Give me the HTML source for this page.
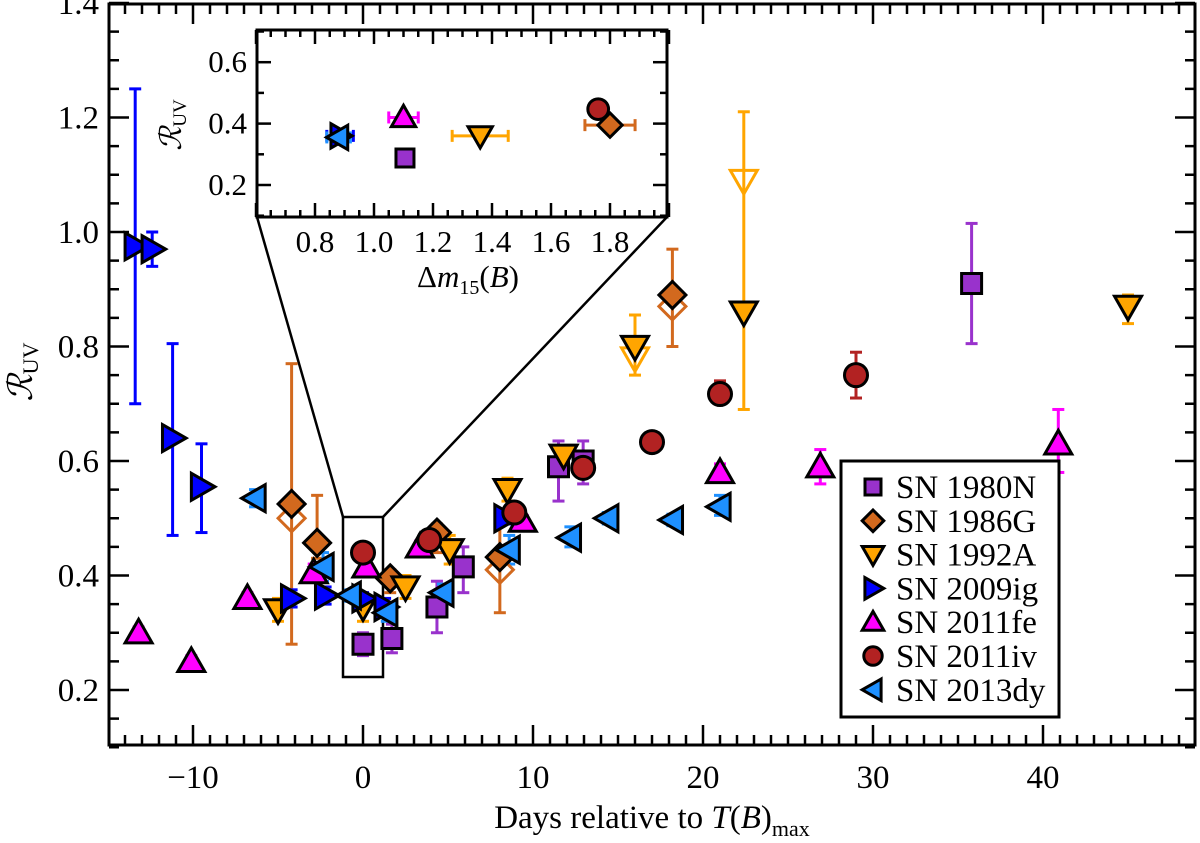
<!DOCTYPE html>
<html><head><meta charset="utf-8"><style>
html,body{margin:0;padding:0;background:#fff}
svg{display:block;font-family:"Liberation Serif",serif}
</style></head><body>
<svg id="chart" width="1200" height="843" viewBox="0 0 1200 843" xmlns="http://www.w3.org/2000/svg">
<g id="main"></g>
<g id="inset"></g>
</svg>
<script>
// ---------- data (main panel) ----------
const sn80Days = [0.0, 1.7, 4.35, 5.9, 11.5, 12.95, 35.8];
const sn80Vals = [0.28, 0.29, 0.345, 0.415, 0.59, 0.60, 0.91];
const sn80Lo = [0.26, 0.265, 0.30, 0.37, 0.53, 0.56, 0.805];
const sn80Hi = [0.30, 0.315, 0.39, 0.45, 0.635, 0.635, 1.015];

const sn86Days = [-4.2, -2.7, 1.6, 4.35, 8.05, 18.2];
const sn86Vals = [0.525, 0.457, 0.395, 0.475, 0.432, 0.89];
const sn86Lo = [0.28, 0.43, 0.37, 0.44, 0.335, 0.80];
const sn86Hi = [0.77, 0.54, 0.41, 0.49, 0.50, 0.97];

const sn92Days = [-5.0, 0.0, 2.5, 5.1, 8.5, 11.8, 16.0, 22.4, 45.0];
const sn92Vals = [0.34, 0.345, 0.38, 0.445, 0.55, 0.61, 0.80, 0.86, 0.87];
const sn92Lo = [0.32, 0.32, 0.36, 0.42, 0.53, 0.59, 0.75, 0.69, 0.84];
const sn92Hi = [0.36, 0.37, 0.40, 0.47, 0.57, 0.625, 0.855, 1.21, 0.89];

const sn09Days = [-13.4, -12.4, -11.2, -9.5, -4.2, -2.2, 0.0, 1.3, 8.35];
const sn09Vals = [0.975, 0.97, 0.64, 0.555, 0.36, 0.365, 0.36, 0.345, 0.50];
const sn09Lo = [0.70, 0.94, 0.47, 0.475, 0.345, 0.35, 0.35, 0.33, 0.49];
const sn09Hi = [1.25, 1.0, 0.805, 0.63, 0.375, 0.38, 0.37, 0.36, 0.51];

const sn11feDays = [-13.2, -10.1, -6.8, -2.9, 0.2, 3.35, 9.4, 21.0, 26.9, 40.9];
const sn11feVals = [0.30, 0.25, 0.36, 0.405, 0.415, 0.45, 0.495, 0.58, 0.59, 0.63];
const sn11feLo = [0.29, 0.24, 0.35, 0.39, 0.40, 0.44, 0.485, 0.565, 0.56, 0.58];
const sn11feHi = [0.31, 0.26, 0.37, 0.42, 0.43, 0.46, 0.505, 0.595, 0.62, 0.69];

const sn11ivDays = [0.0, 3.9, 8.9, 12.95, 17.0, 21.0, 29.0];
const sn11ivVals = [0.44, 0.462, 0.51, 0.588, 0.633, 0.717, 0.75];
const sn11ivLo = [0.43, 0.45, 0.50, 0.575, 0.62, 0.70, 0.71];
const sn11ivHi = [0.45, 0.475, 0.52, 0.60, 0.645, 0.74, 0.79];

const sn13Days = [-6.35, -2.35, -0.75, 1.4, 4.7, 8.6, 12.2, 14.4, 18.2, 21.0];
const sn13Vals = [0.535, 0.415, 0.365, 0.335, 0.37, 0.445, 0.466, 0.50, 0.497, 0.52];
const sn13Lo = [0.52, 0.39, 0.355, 0.32, 0.355, 0.42, 0.45, 0.49, 0.487, 0.505];
const sn13Hi = [0.55, 0.44, 0.375, 0.35, 0.385, 0.47, 0.485, 0.51, 0.507, 0.54];

// open (hollow) alternative measurements
const open86Days = [-4.2, 8.05, 18.2];
const open86Vals = [0.50, 0.41, 0.87];
const open92Days = [16.0, 22.4];
const open92Vals = [0.78, 1.09];

// ---------- data (inset) ----------
const insetNames = ['1980N','1986G','1992A','2009ig','2011fe','2011iv','2013dy'];
const insetDm15 = [1.105, 1.80, 1.36, 0.885, 1.10, 1.76, 0.88];
const insetVals = [0.288, 0.395, 0.36, 0.36, 0.42, 0.447, 0.355];
const insetDmErr = [0.0, 0.085, 0.095, 0.045, 0.05, 0.0, 0.04];

const xTicks = [-10, 0, 10, 20, 30, 40];
const yTicks = [0.2, 0.4, 0.6, 0.8, 1.0, 1.2, 1.4];
const insetXTicks = [0.8, 1.0, 1.2, 1.4, 1.6, 1.8];
const insetYTicks = [0.2, 0.4, 0.6];
const legendLabels = ['SN 1980N','SN 1986G','SN 1992A','SN 2009ig','SN 2011fe','SN 2011iv','SN 2013dy'];

// ---------- layout ----------
const NS = 'http://www.w3.org/2000/svg';
const L = 109, R = 1195, T = 4, B = 745;
const X = d => 363 + d * 17;
const Y = v => 690 - (v - 0.2) * 572.5;
const IL = 257, IR = 667, IT = 30, IB = 217;
const IX = d => 315 + (d - 0.8) * 295;
const IY = v => 185 - (v - 0.2) * 307;

const colors = {
  '1980N':'#9932CC','1986G':'#D2691E','1992A':'#FFA500','2009ig':'#0000FF',
  '2011fe':'#FF00FF','2011iv':'#B22222','2013dy':'#1E90FF'};
const shapes = {
  '1980N':'square','1986G':'diamond','1992A':'down','2009ig':'right',
  '2011fe':'up','2011iv':'circle','2013dy':'left'};

function el(tag, attrs, parent){
  const e = document.createElementNS(NS, tag);
  for (const k in attrs) e.setAttribute(k, attrs[k]);
  parent.appendChild(e); return e;
}
function markerPath(shape, cx, cy, s){
  switch(shape){
    case 'square': return `M${cx-s},${cy-s}H${cx+s}V${cy+s}H${cx-s}Z`;
    case 'diamond': { const r=s*1.35; return `M${cx},${cy-r}L${cx+r},${cy}L${cx},${cy+r}L${cx-r},${cy}Z`; }
    case 'down': { const r=s*1.35; return `M${cx-r},${cy-r*0.75}L${cx+r},${cy-r*0.75}L${cx},${cy+r}Z`; }
    case 'up': { const r=s*1.35; return `M${cx-r},${cy+r*0.75}L${cx+r},${cy+r*0.75}L${cx},${cy-r}Z`; }
    case 'right': { const r=s*1.35; return `M${cx-r*0.75},${cy-r}L${cx+r},${cy}L${cx-r*0.75},${cy+r}Z`; }
    case 'left': { const r=s*1.35; return `M${cx+r*0.75},${cy-r}L${cx-r},${cy}L${cx+r*0.75},${cy+r}Z`; }
  }
}
function marker(g, key, cx, cy, s, open){
  const col = colors[key];
  if (shapes[key]==='circle'){
    const c = el('circle',{cx:cx,cy:cy,r:s*1.15,fill:open?'none':col,stroke:open?col:'#000','stroke-width':3},g);
    
    
    return;
  }
  const p = el('path',{d:markerPath(shapes[key],cx,cy,s),fill:open?'none':col,stroke:open?col:'#000','stroke-width':3,'stroke-linejoin':'miter'},g);
  
  
}
function vErr(g, col, x, y1, y2, cap){
  el('line',{x1:x,x2:x,y1:y1,y2:y2,stroke:col,'stroke-width':3},g);
  el('line',{x1:x-cap,x2:x+cap,y1:y1,y2:y1,stroke:col,'stroke-width':3},g);
  el('line',{x1:x-cap,x2:x+cap,y1:y2,y2:y2,stroke:col,'stroke-width':3},g);
}
function hErr(g, col, x1, x2, y, cap){
  el('line',{x1:x1,x2:x2,y1:y,y2:y,stroke:col,'stroke-width':3},g);
  el('line',{x1:x1,x2:x1,y1:y-cap,y2:y+cap,stroke:col,'stroke-width':3},g);
  el('line',{x1:x2,x2:x2,y1:y-cap,y2:y+cap,stroke:col,'stroke-width':3},g);
}
function txt(g, s, x, y, size, anchor, name){
  const t = el('text',{x:x,y:y,'font-size':size,'text-anchor':anchor||'middle',fill:'#000'},g);
  t.textContent = s;
  
  
  return t;
}

const main = document.getElementById('main');
const inset = document.getElementById('inset');

// ---------- main axes ----------
const frame = el('rect',{x:L,y:T,width:R-L,height:B-T,fill:'none',stroke:'#000','stroke-width':3},main);


for (let d=-14; d<=48; d++){
  const x = X(d), len = (d%10===0)?20:10;
  el('line',{x1:x,x2:x,y1:B,y2:B-len,stroke:'#000','stroke-width':2.5},main);
  el('line',{x1:x,x2:x,y1:T,y2:T+len,stroke:'#000','stroke-width':2.5},main);
}
for (let i=2; i<=28; i++){
  const v = i*0.05, y = Y(v), len = (i%4===0)?20:10;
  el('line',{x1:L,x2:L+len,y1:y,y2:y,stroke:'#000','stroke-width':2.5},main);
  el('line',{x1:R,x2:R-len,y1:y,y2:y,stroke:'#000','stroke-width':2.5},main);
}
xTicks.forEach(d=>{ txt(main, d<0?'\u2212'+Math.abs(d):String(d), X(d), 788, 33, 'middle', 'x-tick-label'); });
yTicks.forEach(v=>{ txt(main, v.toFixed(1), 99, Y(v)+11, 33, 'end', 'y-tick-label'); });

const xt = txt(main, '', 652, 828, 33, 'middle', 'x-axis-title');
xt.innerHTML = 'Days relative to <tspan font-style="italic">T</tspan>(<tspan font-style="italic">B</tspan>)<tspan font-size="22" dy="8">max</tspan>';
const yt = txt(main, '', 0, 0, 34, 'middle', 'y-axis-title');
yt.setAttribute('transform','translate(32,372) rotate(-90)');
yt.innerHTML = '<tspan font-style="italic">\u211B</tspan><tspan font-size="22" dy="6">UV</tspan>';

// zoom box + connector lines
const zb = el('rect',{x:343,y:517,width:40,height:160,fill:'none',stroke:'#000','stroke-width':2.5},main);


el('line',{x1:IL,y1:IB,x2:343,y2:517,stroke:'#000','stroke-width':2.5},main);
el('line',{x1:IR,y1:IB,x2:383,y2:517,stroke:'#000','stroke-width':2.5},main);

// ---------- main series ----------
const series = [
  ['1980N', sn80Days, sn80Vals, sn80Lo, sn80Hi],
  ['1986G', sn86Days, sn86Vals, sn86Lo, sn86Hi],
  ['1992A', sn92Days, sn92Vals, sn92Lo, sn92Hi],
  ['2009ig', sn09Days, sn09Vals, sn09Lo, sn09Hi],
  ['2011fe', sn11feDays, sn11feVals, sn11feLo, sn11feHi],
  ['2011iv', sn11ivDays, sn11ivVals, sn11ivLo, sn11ivHi],
  ['2013dy', sn13Days, sn13Vals, sn13Lo, sn13Hi]
];
const errG = el('g',{},main);


const mkG = el('g',{},main);


series.forEach(([k,ds,vs,lo,hi])=>{
  ds.forEach((d,i)=>{ vErr(errG, colors[k], X(d), Y(lo[i]), Y(hi[i]), 6); });
});
open86Days.forEach((d,i)=>marker(errG,'1986G',X(d),Y(open86Vals[i]),10,true));
open92Days.forEach((d,i)=>marker(errG,'1992A',X(d),Y(open92Vals[i]),10,true));
series.forEach(([k,ds,vs])=>{
  ds.forEach((d,i)=>{ marker(mkG, k, X(d), Y(vs[i]), 10, false); });
});

// ---------- legend ----------
const lg = el('g',{},main);


const lr = el('rect',{x:841,y:461,width:218,height:256,fill:'#fff',stroke:'#000','stroke-width':3},lg);


legendLabels.forEach((lab,i)=>{
  const y = 487 + i*33.8;
  marker(lg, insetNames[i], 873, y, 8, false);
  txt(lg, lab, 896, y+11, 33, 'start', 'legend-entry');
});

// ---------- inset ----------
const ibg = el('rect',{x:IL,y:IT,width:IR-IL,height:IB-IT,fill:'#fff',stroke:'#000','stroke-width':3},inset);


for (let i=12; i<=40; i++){
  const v=i*0.05, x=IX(v), len=(i%4===0)?14:7;
  el('line',{x1:x,x2:x,y1:IB,y2:IB-len,stroke:'#000','stroke-width':2.5},inset);
  el('line',{x1:x,x2:x,y1:IT,y2:IT+len,stroke:'#000','stroke-width':2.5},inset);
}
for (let i=1; i<=7; i++){
  const v=i*0.1, y=IY(v), len=(i%2===0)?14:7;
  el('line',{x1:IL,x2:IL+len,y1:y,y2:y,stroke:'#000','stroke-width':2.5},inset);
  el('line',{x1:IR,x2:IR-len,y1:y,y2:y,stroke:'#000','stroke-width':2.5},inset);
}
insetXTicks.forEach(v=>txt(inset, v.toFixed(1), IX(v), 252, 31, 'middle', 'inset-x-tick-label'));
insetYTicks.forEach(v=>txt(inset, v.toFixed(1), 247, IY(v)+10, 31, 'end', 'inset-y-tick-label'));
const ixt = txt(inset, '', 468, 287, 31, 'middle', 'inset-x-axis-title');
ixt.innerHTML = '\u0394<tspan font-style="italic">m</tspan><tspan font-size="20" dy="7">15</tspan><tspan dy="-7">(</tspan><tspan font-style="italic">B</tspan>)';
const iyt = txt(inset, '', 0, 0, 30, 'middle', 'inset-y-axis-title');
iyt.setAttribute('transform','translate(181,125) rotate(-90)');
iyt.innerHTML = '<tspan font-style="italic">\u211B</tspan><tspan font-size="19" dy="5">UV</tspan>';
insetNames.forEach((k,i)=>{
  if (insetDmErr[i]>0) hErr(inset, colors[k], IX(insetDm15[i]-insetDmErr[i]), IX(insetDm15[i]+insetDmErr[i]), IY(insetVals[i]), 6);
});
insetNames.forEach((k,i)=>marker(inset, k, IX(insetDm15[i]), IY(insetVals[i]), 9, false));
</script>
</body></html>
